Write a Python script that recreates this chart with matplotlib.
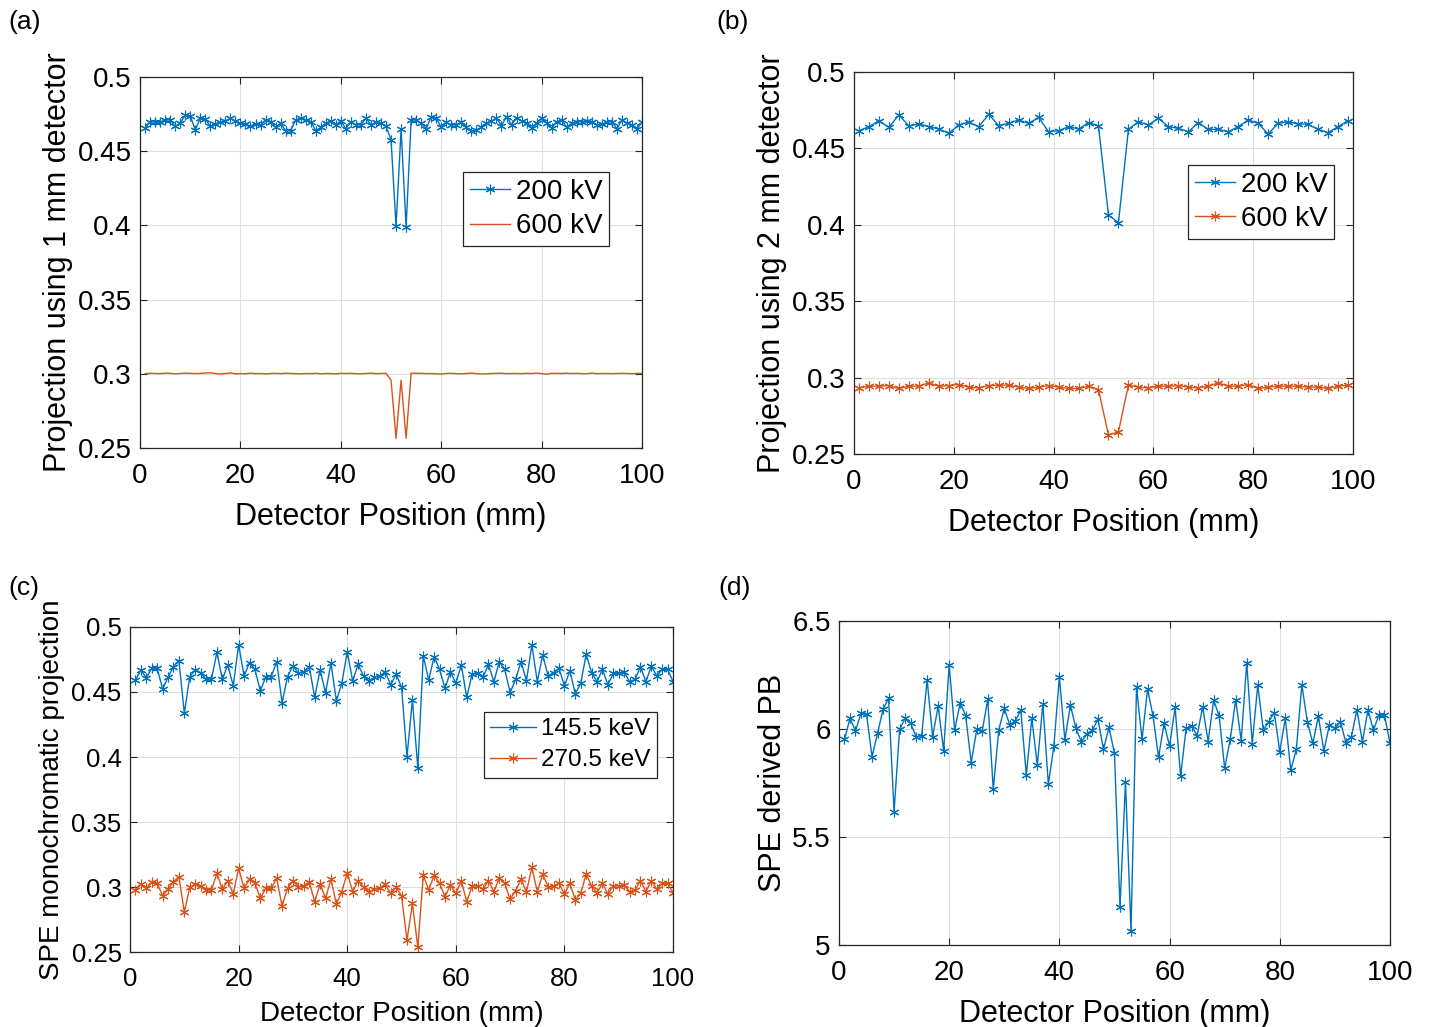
import numpy as np
import matplotlib
matplotlib.use('Agg')
import matplotlib.pyplot as plt

plt.rcParams['font.family'] = ['Liberation Sans', 'DejaVu Sans']

BLUE = '#0072BD'
ORANGE = '#D95319'
AX_COLOR = '#262626'

# ---- data ----
# (a) 1 mm detector, positions 1..100
x_a = list(range(1, 101))
a_200kv = [0.4656, 0.4700, 0.4696, 0.4696, 0.4711, 0.4711, 0.4667, 0.4689, 0.4744, 0.4738,
           0.4644, 0.4722, 0.4718, 0.4667, 0.4684, 0.4696, 0.4704, 0.4722, 0.4704, 0.4689,
           0.4682, 0.4667, 0.4682, 0.4678, 0.4711, 0.4700, 0.4660, 0.4689, 0.4638, 0.4638,
           0.4711, 0.4722, 0.4711, 0.4700, 0.4638, 0.4660, 0.4689, 0.4704, 0.4678, 0.4704,
           0.4651, 0.4700, 0.4678, 0.4678, 0.4722, 0.4678, 0.4696, 0.4689, 0.4667, 0.4578,
           0.3994, 0.4649, 0.3990, 0.4711, 0.4711, 0.4689, 0.4651, 0.4733, 0.4722, 0.4660,
           0.4696, 0.4678, 0.4678, 0.4696, 0.4660, 0.4633, 0.4644, 0.4660, 0.4689, 0.4704,
           0.4722, 0.4673, 0.4733, 0.4678, 0.4727, 0.4704, 0.4689, 0.4656, 0.4689, 0.4722,
           0.4689, 0.4656, 0.4700, 0.4711, 0.4660, 0.4689, 0.4700, 0.4700, 0.4704, 0.4700,
           0.4678, 0.4682, 0.4696, 0.4700, 0.4651, 0.4711, 0.4689, 0.4678, 0.4651, 0.4696]
a_600kv = [0.3001, 0.3003, 0.3002, 0.3001, 0.3004, 0.3003, 0.3000, 0.3002, 0.3004, 0.3003,
           0.3001, 0.3003, 0.3005, 0.3007, 0.3002, 0.2999, 0.3002, 0.3006, 0.3000, 0.3001,
           0.3000, 0.3004, 0.3001, 0.3002, 0.2999, 0.3002, 0.3003, 0.3001, 0.3004, 0.3002,
           0.3001, 0.3000, 0.3002, 0.3001, 0.3003, 0.3000, 0.3002, 0.3001, 0.3000, 0.3003,
           0.3002, 0.3003, 0.3001, 0.3000, 0.3002, 0.3004, 0.3001, 0.3002, 0.3003, 0.2957,
           0.2565, 0.2957, 0.2565, 0.3005, 0.3003, 0.3003, 0.3001, 0.3002, 0.3000, 0.2999,
           0.3002, 0.3003, 0.3001, 0.3000, 0.3002, 0.3005, 0.3001, 0.2999, 0.3000, 0.3002,
           0.3003, 0.3004, 0.3001, 0.3002, 0.3002, 0.3001, 0.3003, 0.3002, 0.3005, 0.3001,
           0.2997, 0.3003, 0.3003, 0.3002, 0.3004, 0.3002, 0.3003, 0.3001, 0.3001, 0.3005,
           0.3001, 0.3002, 0.3002, 0.3001, 0.3002, 0.3003, 0.3002, 0.3001, 0.3003, 0.3002]

# (b) 2 mm detector, positions 1, 3, ..., 99
x_b = list(range(1, 100, 2))
b_200kv = [0.4616, 0.4642, 0.4681, 0.4638, 0.4719, 0.4647, 0.4660, 0.4642, 0.4627, 0.4599,
           0.4653, 0.4673, 0.4642, 0.4723, 0.4649, 0.4664, 0.4686, 0.4664, 0.4703, 0.4609,
           0.4616, 0.4642, 0.4627, 0.4668, 0.4647, 0.4064, 0.4014, 0.4625, 0.4675, 0.4653,
           0.4697, 0.4642, 0.4631, 0.4609, 0.4668, 0.4625, 0.4625, 0.4609, 0.4642, 0.4686,
           0.4664, 0.4594, 0.4664, 0.4675, 0.4660, 0.4658, 0.4625, 0.4603, 0.4642, 0.4681]
b_600kv = [0.2933, 0.2944, 0.2944, 0.2948, 0.2929, 0.2944, 0.2944, 0.2966, 0.2944, 0.2948,
           0.2955, 0.2938, 0.2933, 0.2948, 0.2951, 0.2951, 0.2938, 0.2929, 0.2938, 0.2948,
           0.2938, 0.2929, 0.2929, 0.2944, 0.2922, 0.2624, 0.2645, 0.2951, 0.2938, 0.2933,
           0.2944, 0.2944, 0.2948, 0.2938, 0.2933, 0.2944, 0.2966, 0.2944, 0.2944, 0.2955,
           0.2929, 0.2938, 0.2944, 0.2944, 0.2944, 0.2938, 0.2938, 0.2929, 0.2944, 0.2951]

# (c) SPE monochromatic projection, positions 1..100
x_c = list(range(1, 101))
c_145kev = [0.4592, 0.4669, 0.4610, 0.4682, 0.4682, 0.4523, 0.4613, 0.4695, 0.4741, 0.4336,
            0.4618, 0.4669, 0.4649, 0.4597, 0.4600, 0.4805, 0.4597, 0.4708, 0.4549, 0.4862,
            0.4623, 0.4726, 0.4674, 0.4508, 0.4618, 0.4618, 0.4733, 0.4418, 0.4618, 0.4703,
            0.4644, 0.4656, 0.4695, 0.4459, 0.4669, 0.4495, 0.4721, 0.4431, 0.4567, 0.4810,
            0.4585, 0.4713, 0.4623, 0.4585, 0.4613, 0.4623, 0.4656, 0.4554, 0.4638, 0.4536,
            0.4003, 0.4438, 0.3913, 0.4777, 0.4592, 0.4772, 0.4674, 0.4528, 0.4656, 0.4567,
            0.4708, 0.4459, 0.4638, 0.4644, 0.4613, 0.4713, 0.4579, 0.4733, 0.4674, 0.4495,
            0.4597, 0.4733, 0.4587, 0.4862, 0.4579, 0.4785, 0.4623, 0.4649, 0.4682, 0.4546,
            0.4664, 0.4485, 0.4567, 0.4790, 0.4649, 0.4579, 0.4674, 0.4554, 0.4644, 0.4644,
            0.4656, 0.4579, 0.4597, 0.4695, 0.4579, 0.4700, 0.4623, 0.4674, 0.4674, 0.4579]
c_270kev = [0.2977, 0.3021, 0.2990, 0.3036, 0.3028, 0.2933, 0.2982, 0.3041, 0.3079, 0.2805,
            0.2998, 0.3021, 0.3008, 0.2977, 0.2977, 0.3105, 0.2982, 0.3049, 0.2946, 0.3144,
            0.2990, 0.3059, 0.3028, 0.2913, 0.2990, 0.2990, 0.3067, 0.2854, 0.2990, 0.3049,
            0.3003, 0.3008, 0.3041, 0.2887, 0.3023, 0.2913, 0.3059, 0.2869, 0.2964, 0.3110,
            0.2964, 0.3049, 0.2998, 0.2964, 0.2982, 0.2990, 0.3021, 0.2951, 0.2998, 0.2931,
            0.2592, 0.2874, 0.2536, 0.3092, 0.2977, 0.3092, 0.3028, 0.2926, 0.3015, 0.2951,
            0.3049, 0.2887, 0.3008, 0.3008, 0.2982, 0.3049, 0.2964, 0.3067, 0.3028, 0.2905,
            0.2972, 0.3059, 0.2964, 0.3151, 0.2964, 0.3100, 0.2998, 0.3008, 0.3028, 0.2946,
            0.3028, 0.2900, 0.2951, 0.3100, 0.3008, 0.2956, 0.3028, 0.2946, 0.3008, 0.3008,
            0.3015, 0.2964, 0.2977, 0.3049, 0.2964, 0.3049, 0.2982, 0.3028, 0.3028, 0.2956]

# (d) SPE derived PB, positions 1..100
x_d = list(range(1, 101))
d_pb = [5.952, 6.049, 5.992, 6.073, 6.069, 5.872, 5.980, 6.091, 6.142, 5.617,
        5.998, 6.049, 6.026, 5.965, 5.968, 6.227, 5.965, 6.106, 5.900, 6.296,
        5.995, 6.122, 6.060, 5.844, 5.998, 5.992, 6.137, 5.721, 5.995, 6.096,
        6.019, 6.038, 6.088, 5.787, 6.049, 5.833, 6.116, 5.745, 5.921, 6.242,
        5.949, 6.111, 6.003, 5.941, 5.977, 5.995, 6.045, 5.906, 6.008, 5.887,
        5.177, 5.756, 5.066, 6.193, 5.952, 6.184, 6.060, 5.869, 6.026, 5.921,
        6.100, 5.782, 6.003, 6.014, 5.969, 6.103, 5.941, 6.134, 6.060, 5.818,
        5.952, 6.134, 5.946, 6.307, 5.931, 6.204, 5.995, 6.034, 6.076, 5.895,
        6.049, 5.810, 5.906, 6.204, 6.034, 5.934, 6.060, 5.898, 6.019, 6.003,
        6.034, 5.937, 5.965, 6.088, 5.941, 6.088, 5.995, 6.065, 6.065, 5.934]

ASTERISK = (6, 2, 0)


def style_axes(ax, ylim, yticks, tick_fs):
    ax.set_xlim(0, 100)
    ax.set_ylim(*ylim)
    ax.set_xticks([0, 20, 40, 60, 80, 100])
    ax.set_yticks(yticks)
    ax.set_yticklabels(['%g' % v for v in yticks])
    ax.grid(True, color='#dedede', linewidth=0.8)
    ax.set_axisbelow(True)
    ax.tick_params(direction='in', length=5, width=0.8, colors=AX_COLOR,
                   labelsize=tick_fs, top=True, right=True)
    ax.tick_params(axis='x', pad=11)
    ax.tick_params(axis='y', pad=6)
    for label in ax.get_xticklabels() + ax.get_yticklabels():
        label.set_color('black')
    for sp in ax.spines.values():
        sp.set_color(AX_COLOR)
        sp.set_linewidth(0.9)


def add_legend(ax, anchor, fs, hl, spacing):
    leg = ax.legend(loc='upper left', bbox_to_anchor=anchor, fontsize=fs, frameon=True,
                    fancybox=False, edgecolor=AX_COLOR, handlelength=hl, handletextpad=0.2,
                    borderpad=0.25, labelspacing=spacing, borderaxespad=0, framealpha=1)
    leg.get_frame().set_linewidth(0.9)


fig = plt.figure(figsize=(14.29, 10.27), dpi=100)

# (a)
ax = fig.add_axes([0.098, 0.5638, 0.3513, 0.3612])
ax.plot(x_a, a_200kv, color=BLUE, lw=1.0, marker=ASTERISK, ms=7, mew=0.8, label='200 kV')
ax.plot(x_a, a_600kv, color=ORANGE, lw=1.0, label='600 kV')
style_axes(ax, (0.25, 0.5), [0.25, 0.3, 0.35, 0.4, 0.45, 0.5], 20)
ax.set_xlabel('Detector Position (mm)', fontsize=22, labelpad=9)
ax.set_ylabel('Projection using 1 mm detector', fontsize=22, labelpad=3)
add_legend(ax, (0.643, 0.744), 20, 1.45, 0.3)

# (b)
ax = fig.add_axes([0.5976, 0.5579, 0.3492, 0.372])
ax.plot(x_b, b_200kv, color=BLUE, lw=1.0, marker=ASTERISK, ms=7, mew=0.8, label='200 kV')
ax.plot(x_b, b_600kv, color=ORANGE, lw=1.0, marker=ASTERISK, ms=7, mew=0.8, label='600 kV')
style_axes(ax, (0.25, 0.5), [0.25, 0.3, 0.35, 0.4, 0.45, 0.5], 20)
ax.set_xlabel('Detector Position (mm)', fontsize=22, labelpad=9)
ax.set_ylabel('Projection using 2 mm detector', fontsize=22, labelpad=3)
add_legend(ax, (0.669, 0.757), 20, 1.45, 0.3)

# (c)
ax = fig.add_axes([0.091, 0.0730, 0.380, 0.3165])
ax.plot(x_c, c_145kev, color=BLUE, lw=1.0, marker=ASTERISK, ms=7, mew=0.8, label='145.5 keV')
ax.plot(x_c, c_270kev, color=ORANGE, lw=1.0, marker=ASTERISK, ms=7, mew=0.8, label='270.5 keV')
style_axes(ax, (0.25, 0.5), [0.25, 0.3, 0.35, 0.4, 0.45, 0.5], 18.5)
ax.set_xlabel('Detector Position (mm)', fontsize=20, labelpad=7)
ax.set_ylabel('SPE monochromatic projection', fontsize=20, labelpad=5)
add_legend(ax, (0.652, 0.738), 17.5, 1.9, 0.38)

# (d)
ax = fig.add_axes([0.5871, 0.0798, 0.3856, 0.3155])
ax.plot(x_d, d_pb, color=BLUE, lw=1.0, marker=ASTERISK, ms=7, mew=0.8)
style_axes(ax, (5, 6.5), [5, 5.5, 6, 6.5], 20)
ax.set_xlabel('Detector Position (mm)', fontsize=22, labelpad=9)
ax.set_ylabel('SPE derived PB', fontsize=22, labelpad=3)

# panel letters
for lbl, px, py in [('(a)', 8, 22), ('(b)', 716, 22), ('(c)', 8, 588), ('(d)', 718, 588)]:
    fig.text(px / 1429, 1 - py / 1027, lbl, fontsize=19, ha='left', va='center')

fig.savefig('out.png', dpi=100)
